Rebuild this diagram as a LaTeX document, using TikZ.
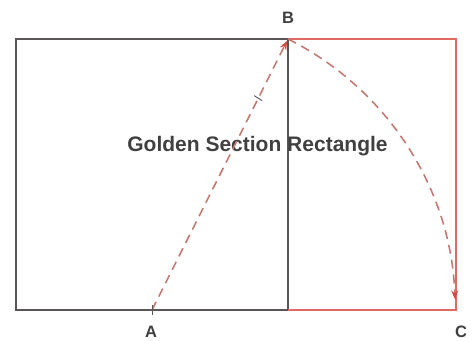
\documentclass[tikz,border=0pt]{standalone}
\usepackage{fontspec}
\setmainfont{Liberation Sans}
\usepackage{xcolor}
\usetikzlibrary{arrows.meta,positioning,calc}

\definecolor{framegray}{HTML}{5A5656}
\definecolor{goldred}{HTML}{E06A62}
\definecolor{dashred}{HTML}{C47A74}
\definecolor{tipred}{HTML}{D2493F}
\definecolor{labelgray}{HTML}{404040}

\tikzset{
  frame/.style={draw=framegray,line width=1.4pt},
  goldside/.style={draw=goldred,line width=1.3pt},
  guide/.style={draw=dashred,line width=1.6pt,dash pattern=on 9pt off 6pt},
  guidetip/.style={-{Stealth[length=9pt,width=7pt,color=tipred]}},
  ptlabel/.style={text=labelgray,font=\bfseries\fontsize{16.5}{16.5}\selectfont,inner sep=0pt},
  title/.style={text=labelgray,font=\bfseries\fontsize{21}{21}\selectfont,inner sep=0pt}
}

\begin{document}
\begin{tikzpicture}[x=1pt,y=1pt]
    \useasboundingbox (0,0) rectangle (473,340);

    % Corners
    \coordinate (sqBL) at (16,30);
    \coordinate (sqTL) at (16,301);
    \coordinate (pA) at (152,30);
    \coordinate (pB) at (288,301);
    \coordinate (pM) at (288,30);
    \coordinate (pC) at (456,30);
    \coordinate (pCT) at (456,301);

    % Square
    \draw[frame] (sqBL) -- (sqTL) -- (pB) -- (pM) -- cycle;

    % Golden extension
    \draw[goldside] (pB) -- (pCT) -- (pC) -- (pM);

    % Labels
    \node[ptlabel] (B) at (288,322) {B};
    \node[ptlabel] (A) at (151,8) {A};
    \node[ptlabel] (C) at (461,8) {C};
    \node[title] (name) at (257.5,194) {Golden Section Rectangle};

    % Diagonal of the half square and its swing down
    \draw[guide,guidetip,shorten >=2pt] (pA) -- (pB);
    \draw[guide,guidetip] (pB) arc[start angle=63.35,end angle=2,radius=303.2];

    % Ticks
    \draw[framegray,line width=0.9pt] ($(pA)+(0,-5)$) -- ($(pA)+(0,5)$);
    \path (pA) -- (pB) coordinate[pos=0.78] (tk);
    \draw[framegray,line width=0.9pt] ($(tk)+(-4,3)$) -- ($(tk)+(4,-2)$);
\end{tikzpicture}
\end{document}
